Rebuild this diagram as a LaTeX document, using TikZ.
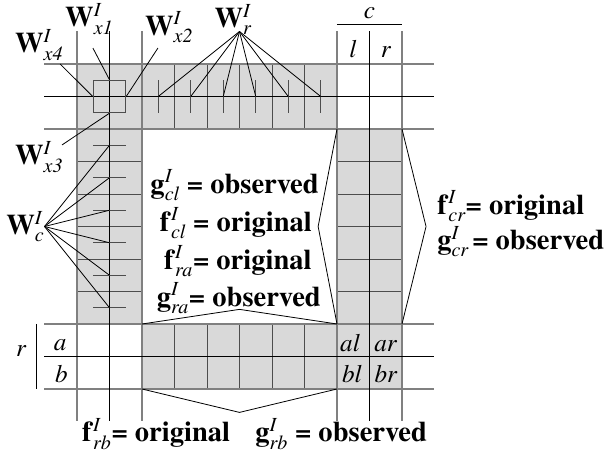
\documentclass[tikz,border=0pt]{standalone}
\usepackage{amsmath}
\usepackage{fontspec}
\setmainfont{texgyretermes}[Extension=.otf,UprightFont=*-regular,BoldFont=*-bold,ItalicFont=*-italic,BoldItalicFont=*-bolditalic]
\usepackage{tikz}
\usetikzlibrary{positioning}
\definecolor{cellfill}{HTML}{D9D9D9}
\definecolor{gridgray}{HTML}{808080}
\definecolor{cellline}{HTML}{4D4D4D}
\newcommand{\wsym}[3]{\textbf{#1}$^{\text{\mdseries\itshape #2}}_{\text{\mdseries\itshape #3}}$}

\begin{document}
\begin{tikzpicture}[x=1cm,y=1cm,
  wlab/.style={font=\fontsize{25}{29}\selectfont\bfseries,inner sep=0pt},
  eqlab/.style={font=\fontsize{25}{29}\selectfont\bfseries,inner sep=0pt,anchor=base},
  cellab/.style={font=\fontsize{22}{26}\selectfont\itshape,inner sep=0pt,anchor=base},
  thinline/.style={gridgray,line width=0.9pt},
  mainline/.style={black,line width=1.3pt},
  cellrule/.style={cellline,line width=0.8pt},
  fan/.style={black,line width=0.7pt}]
  \useasboundingbox (-2.369,1.969) rectangle (16.277,-12.062);
  % shaded cells
  \fill[cellfill] (0,0) -- (8,0) -- (8,-2) -- (2,-2) -- (2,-8) -- (0,-8) -- cycle;
  \fill[cellfill] (8,-2) rectangle (10,-10);
  \fill[cellfill] (2,-8) rectangle (8,-10);
  % cell borders
  \foreach \x in {3,...,7}{\draw[cellrule] (\x,0) -- (\x,-2); \draw[cellrule] (\x,-8) -- (\x,-10);}
  \foreach \y in {3,...,7}{\draw[cellrule] (0,-\y) -- (2,-\y); \draw[cellrule] (8,-\y) -- (10,-\y);}
  % long grid lines
  \foreach \v in {0,2,8,10}{\draw[thinline] (\v,1) -- (\v,-11); \draw[thinline] (-1,-\v) -- (11,-\v);}
  \foreach \v in {1,9}{\draw[mainline] (\v,1) -- (\v,-11); \draw[mainline] (-1,-\v) -- (11,-\v);}
  % ticks
  \foreach \i in {1,...,6}{
    \draw[cellrule] (\i+1.5,-0.5) -- (\i+1.5,-1.5);
    \draw[cellrule] (0.5,-\i-1.5) -- (1.5,-\i-1.5);
    \coordinate (rt\i) at (\i+1.5,-1);
    \coordinate (ct\i) at (1,-\i-1.5);}
  \node[draw=cellline,line width=0.8pt,minimum size=1cm,inner sep=0pt] (wxbox) at (1,-1) {};
  % headers
  \draw[line width=0.8pt] (8,1.23) -- (10,1.23);
  \node[cellab] (c) at (9,1.4) {c};
  \node[cellab] (l) at (8.49,0.215) {l};
  \node[cellab] (r) at (9.5,0.215) {r};
  \draw[line width=0.8pt] (-1.26,-8) -- (-1.26,-10);
  \node[cellab] (rr) at (-1.72,-9.0) {r};
  \node[cellab] (a) at (-0.52,-8.82) {a};
  \node[cellab] (b) at (-0.48,-9.8) {b};
  \node[cellab] (al) at (8.4,-8.85) {al};
  \node[cellab] (ar) at (9.49,-8.85) {ar};
  \node[cellab] (bl) at (8.46,-9.8) {bl};
  \node[cellab] (br) at (9.5,-9.8) {br};
  % weight labels
  \node[wlab,anchor=base west] (wx4) at (-1.91,0.34) {\wsym{W}{I}{x4}};
  \node[wlab,anchor=base west] (wx1) at (-0.37,1.14) {\wsym{W}{I}{x1}};
  \node[wlab,anchor=base west] (wx2) at (2.09,0.89) {\wsym{W}{I}{x2}};
  \node[wlab,anchor=base west] (wx3) at (-1.91,-3.1) {\wsym{W}{I}{x3}};
  \node[wlab,anchor=base] (wr) at (4.8,1.12) {\wsym{W}{I}{r}};
  \node[wlab,anchor=east] (wc) at (-1,-5) {\wsym{W}{I}{c}};
  \coordinate (x4end) at (-0.52,0);
  \coordinate (x1end) at (0.49,0.49);
  \coordinate (x2end) at (2.49,0.49);
  \coordinate (x3end) at (-0.46,-2.49);
  \coordinate (wrfan) at (5,1);
  \draw[fan] (x4end) -- (wxbox.west);
  \draw[fan] (x1end) -- (wxbox.north);
  \draw[fan] (x2end) -- (wxbox.east);
  \draw[fan] (x3end) -- (wxbox.south);
  \foreach \i in {1,...,6}{\draw[fan] (wrfan) -- (rt\i); \draw[fan] (wc.east) -- (ct\i);}
  % brackets
  \draw[fan] (2,-8) -- (5,-7.55) -- (8,-8);
  \draw[fan] (8,-2) -- (7.42,-5) -- (8,-8);
  \draw[fan] (10,-2) -- (10.74,-5) -- (10,-8);
  \draw[fan] (2,-10) -- (5,-10.72) -- (8,-10);
  % equations
  \node[eqlab] (gcl) at (4.85,-3.97) {\wsym{g}{I}{cl} = observed};
  \node[eqlab] (fcl) at (4.89,-5.14) {\wsym{f}{I}{cl} = original};
  \node[eqlab] (fra) at (4.95,-6.31) {\wsym{f}{I}{ra}= original};
  \node[eqlab] (gra) at (4.98,-7.45) {\wsym{g}{I}{ra}= observed};
  \node[eqlab,anchor=base west] (fcr) at (11.08,-4.62) {\wsym{f}{I}{cr}= original};
  \node[eqlab,anchor=base west] (gcr) at (11.08,-5.72) {\wsym{g}{I}{cr}\hspace{0.12em}= observed};
  \node[eqlab,anchor=base west] (frb) at (0.15,-11.63) {\wsym{f}{I}{rb}= original};
  \node[eqlab,anchor=base west] (grb) at (5.48,-11.63) {\wsym{g}{I}{rb} = observed};
\end{tikzpicture}
\end{document}
